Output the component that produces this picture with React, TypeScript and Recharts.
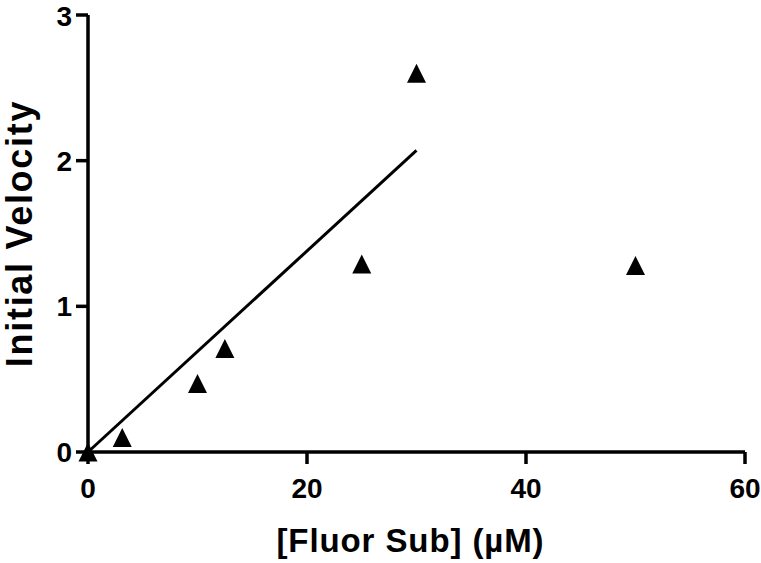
import React from 'react';
import { ScatterChart, Scatter, XAxis, YAxis, Label } from 'recharts';

const substrate = [0, 3.125, 10, 12.5, 25, 30, 50];
const velocity = [0, 0.1, 0.47, 0.71, 1.29, 2.6, 1.28];
const fitX = [0, 30];
const fitY = [0, 2.07];
const xTicks = [0, 20, 40, 60];
const yTicks = [0, 1, 2, 3];
const xTitle = '[Fluor Sub] (\u00b5M)';
const yTitle = 'Initial Velocity';

const points = substrate.map((x, i) => ({ x, y: velocity[i] }));
const fit = fitX.map((x, i) => ({ x, y: fitY[i] }));

const FONT = '"Liberation Sans", Arial, sans-serif';

const Triangle = (props: any) => {
  const { cx, cy } = props;
  const w = 19;
  const h = 19;
  return (
    <polygon
      points={`${cx},${cy - h / 2} ${cx - w / 2},${cy + h / 2} ${cx + w / 2},${cy + h / 2}`}
      fill="#000"
    />
  );
};

const NoShape = () => <g />;

const XTitle = (props: any) => {
  const vb = props.viewBox || {};
  return (
    <text
      x={vb.x + vb.width / 2 - 6}
      y={vb.y + 100}
      textAnchor="middle"
      fontFamily={FONT}
      fontWeight="bold"
      fontSize={33}
      letterSpacing={0.9}
      fill="#000"
    >
      {xTitle}
    </text>
  );
};

const YTitle = (props: any) => {
  const vb = props.viewBox || {};
  const cx = vb.x + 32;
  const cy = vb.y + vb.height / 2;
  return (
    <text
      x={cx}
      y={cy}
      transform={`rotate(-90, ${cx}, ${cy})`}
      textAnchor="middle"
      fontFamily={FONT}
      fontWeight="bold"
      fontSize={36}
      letterSpacing={1.7}
      fill="#000"
    >
      {yTitle}
    </text>
  );
};

const tickStyle = { fill: '#000', fontSize: 28, fontWeight: 'bold', fontFamily: FONT };
const lineStyle = { stroke: '#000', strokeWidth: 3.5 };

export default function App() {
  return (
    <div style={{ position: 'absolute', left: 0, top: 0, background: '#fff' }}>
      <ScatterChart width={761} height={563} margin={{ top: 15, right: 16, left: 0, bottom: 0 }}>
        <XAxis
          type="number"
          dataKey="x"
          domain={[0, 60]}
          ticks={xTicks}
          allowDataOverflow={false}
          height={111}
          tickSize={12}
          tickMargin={14}
          tick={tickStyle}
          axisLine={lineStyle}
          tickLine={lineStyle}
        >
          <Label content={<XTitle />} />
        </XAxis>
        <YAxis
          type="number"
          dataKey="y"
          domain={[0, 3]}
          ticks={yTicks}
          width={88}
          tickSize={12}
          tickMargin={4}
          tick={tickStyle}
          axisLine={lineStyle}
          tickLine={lineStyle}
        >
          <Label content={<YTitle />} />
        </YAxis>
        <Scatter
          data={fit}
          line={{ stroke: '#000', strokeWidth: 3 }}
          shape={NoShape}
          isAnimationActive={false}
          legendType="none"
        />
        <Scatter data={points} shape={Triangle} isAnimationActive={false} fill="#000" />
      </ScatterChart>
    </div>
  );
}
